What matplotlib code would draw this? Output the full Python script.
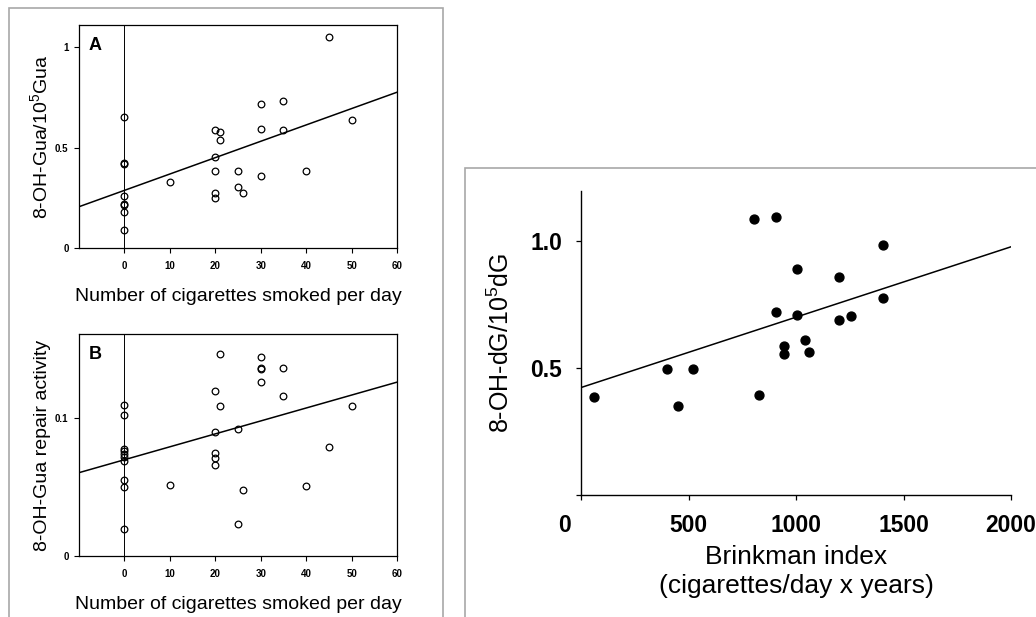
import numpy as np
import matplotlib.pyplot as plt
from matplotlib.patches import Rectangle
from matplotlib.transforms import ScaledTranslation

plt.rcParams['font.family'] = ['Liberation Sans', 'DejaVu Sans']
plt.rcParams['mathtext.fontset'] = 'custom'
plt.rcParams['mathtext.rm'] = 'Liberation Sans'
plt.rcParams['mathtext.it'] = 'Liberation Sans'
plt.rcParams['mathtext.bf'] = 'Liberation Sans:bold'

# Panel A: 8-OH-Gua vs cigarettes per day
a_x = [0, 0, 0, 0, 0, 0, 0, 0, 10, 20, 20, 20, 20, 20, 21, 21,
       25, 25, 26, 30, 30, 30, 35, 35, 40, 45, 50]
a_y = [0.652, 0.423, 0.418, 0.262, 0.222, 0.215, 0.182, 0.091, 0.332,
       0.589, 0.456, 0.385, 0.277, 0.252, 0.577, 0.536,
       0.385, 0.303, 0.274, 0.716, 0.595, 0.360, 0.731, 0.590, 0.385, 1.048, 0.638]
a_fit = (0.288, 0.00813)   # intercept, slope

# Panel B: repair activity vs cigarettes per day
b_x = [0, 0, 0, 0, 0, 0, 0, 0, 0, 0, 10, 20, 20, 20, 20, 20, 21, 21,
       25, 25, 26, 30, 30, 30, 30, 35, 35, 40, 45, 50]
b_y = [0.1097, 0.1022, 0.0777, 0.0760, 0.0743, 0.0722, 0.0688, 0.0552, 0.0504, 0.0199,
       0.0516, 0.1200, 0.0898, 0.0746, 0.0709, 0.0663, 0.1470, 0.1090,
       0.0920, 0.0230, 0.0480, 0.1443, 0.1363, 0.1356, 0.1262, 0.1363, 0.1160,
       0.0508, 0.0789, 0.1090]
b_fit = (0.0699, 0.000939)

# Right panel: 8-OH-dG vs Brinkman index
c_x = [61, 399, 452, 520, 802, 829, 904, 904, 1005, 1005, 944, 944,
       1039, 1060, 1201, 1201, 1254, 1404, 1404]
c_y = [0.388, 0.497, 0.349, 0.497, 1.086, 0.395, 1.096, 0.720, 0.889, 0.711,
       0.588, 0.557, 0.612, 0.562, 0.861, 0.688, 0.707, 0.987, 0.775]
c_fit = (0.424, 0.000277)

cig_ticks = [0, 10, 20, 30, 40, 50, 60]
bi_ticks = [0, 500, 1000, 1500, 2000]

fig = plt.figure(figsize=(10.36, 6.17), dpi=100)
W, H = 1036, 617

def px_axes(left, top, right, bottom):
    return fig.add_axes([left / W, 1 - bottom / H, (right - left) / W, (bottom - top) / H])

# gray frames around the two figures
fig.patches.append(Rectangle((9 / W, -0.02), (443 - 9) / W, 1 - 7.5 / H + 0.02,
                             transform=fig.transFigure, fill=False,
                             edgecolor='#a8a8a8', linewidth=1.2))
fig.patches.append(Rectangle((464.5 / W, -0.02), 0.6, 1 - 168 / H + 0.02,
                             transform=fig.transFigure, fill=False,
                             edgecolor='#a8a8a8', linewidth=1.2))


def left_panel(ax, xs, ys, fit, ymax, yticks, yticklabels, ylabel, letter):
    ax.set_xlim(-10, 60)
    ax.set_ylim(0, ymax)
    ax.axvline(0, color='black', linewidth=0.7)
    xl = np.array([-10, 60])
    ax.plot(xl, fit[0] + fit[1] * xl, color='black', linewidth=1.1)
    ax.plot(xs, ys, 'o', mfc='none', mec='black', ms=4.8, mew=0.9)
    ax.set_xticks(cig_ticks)
    ax.set_xticklabels([str(t) for t in cig_ticks], fontsize=7, fontweight='bold')
    ax.set_yticks(yticks)
    ax.set_yticklabels(yticklabels, fontsize=7, fontweight='bold')
    ax.tick_params(axis='both', direction='out', length=3.5, width=0.8, pad=4)
    ax.tick_params(axis='x', pad=6)
    for s in ax.spines.values():
        s.set_linewidth(0.9)
    ax.set_xlabel('Number of cigarettes smoked per day', fontsize=14, labelpad=12)
    ax.set_ylabel(ylabel, fontsize=14, labelpad=3)
    ax.text(0.03, 0.945, letter, transform=ax.transAxes, fontsize=13,
            fontweight='bold', ha='left', va='top')


ax_a = px_axes(79, 25, 397, 248.3)
left_panel(ax_a, a_x, a_y, a_fit, 1.11, [0, 0.5, 1], ['0', '0.5', '1'],
           '8-OH-Gua/10$^5$Gua', 'A')

ax_b = px_axes(79, 334, 397, 556)
left_panel(ax_b, b_x, b_y, b_fit, 0.1612, [0, 0.1], ['0', '0.1'],
           '8-OH-Gua repair activity', 'B')

# right panel
ax_c = px_axes(581.4, 190.5, 1010.9, 495)
ax_c.set_xlim(0, 2000)
ax_c.set_ylim(0, 1.2)
xl = np.array([0, 2000])
ax_c.plot(xl, c_fit[0] + c_fit[1] * xl, color='black', linewidth=1.1)
ax_c.plot(c_x, c_y, 'o', color='black', ms=6.4)
ax_c.spines['top'].set_visible(False)
ax_c.spines['right'].set_visible(False)
for s in ('left', 'bottom'):
    ax_c.spines[s].set_linewidth(1.0)
ax_c.set_xticks(bi_ticks)
ax_c.set_xticklabels([str(t) for t in bi_ticks], fontsize=16.5, fontweight='bold')
ax_c.set_yticks([0, 0.5, 1.0])
ax_c.set_yticklabels(['', '0.5', '1.0'], fontsize=16.5, fontweight='bold')
ax_c.tick_params(axis='both', direction='out', length=3.8, width=0.9, pad=10)
# the zero label sits left of its tick
ax_c.get_xticklabels()[0].set_transform(
    ax_c.get_xticklabels()[0].get_transform() + ScaledTranslation(-0.17, 0, fig.dpi_scale_trans))
ax_c.set_xlabel('Brinkman index\n(cigarettes/day x years)', fontsize=19,
                linespacing=1.25, labelpad=6)
ax_c.set_ylabel('8-OH-dG/10$^5$dG', fontsize=18, labelpad=12)

fig.savefig('out.png', dpi=100, facecolor='white')
